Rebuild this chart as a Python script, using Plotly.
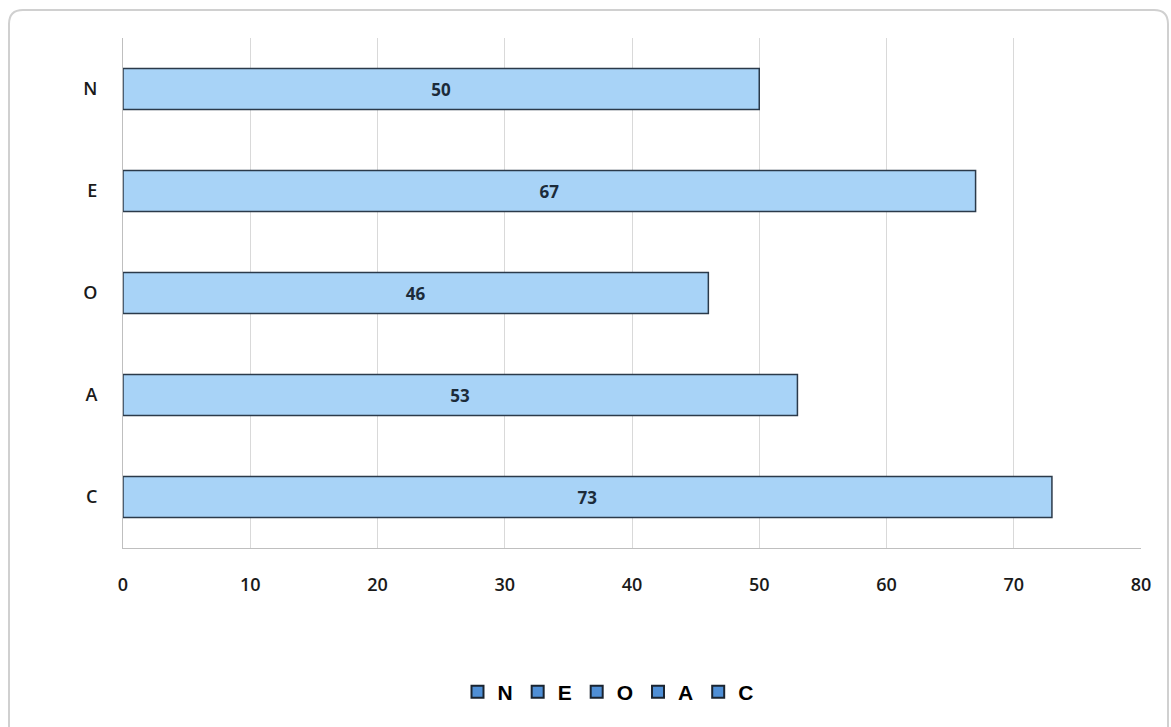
import plotly.graph_objects as go

categories = ["N", "E", "O", "A", "C"]
values = [50, 67, 46, 53, 73]
x_ticks = [0, 10, 20, 30, 40, 50, 60, 70, 80]

W, H = 1171, 727
ML, MR, MT, MB = 123, 30, 38, 179
PW, PH = W - ML - MR, H - MT - MB

def px(x):
    return (x - ML) / PW

def py(y):
    return (H - MB - y) / PH

fig = go.Figure()
fig.add_trace(go.Bar(
    y=categories, x=values, orientation="h",
    marker=dict(color="#A8D3F7", line=dict(color="#2B3A4A", width=1.5)),
    text=[str(v) for v in values], textposition="inside", insidetextanchor="middle",
    textfont=dict(family="Open Sans", size=17, color="#1C2B3A", weight="bold"),
    showlegend=False, width=0.4,
))
for c in categories:
    fig.add_trace(go.Bar(
        y=[None], x=[None], orientation="h", name=c,
        marker=dict(color="#4F8FD6", line=dict(color="#1A2430", width=2)),
        showlegend=True,
    ))

# rounded chart border
x0, x1, y0, y1, r = 9, 1168, 10, 740, 14
path = (f"M {px(x0+r)},{py(y0)} L {px(x1-r)},{py(y0)} Q {px(x1)},{py(y0)} {px(x1)},{py(y0+r)} "
        f"L {px(x1)},{py(y1-r)} Q {px(x1)},{py(y1)} {px(x1-r)},{py(y1)} "
        f"L {px(x0+r)},{py(y1)} Q {px(x0)},{py(y1)} {px(x0)},{py(y1-r)} "
        f"L {px(x0)},{py(y0+r)} Q {px(x0)},{py(y0)} {px(x0+r)},{py(y0)} Z")

fig.update_layout(
    width=W, height=H,
    margin=dict(l=ML, r=MR, t=MT, b=MB),
    paper_bgcolor="white", plot_bgcolor="white",
    barmode="overlay",
    shapes=[dict(type="path", xref="paper", yref="paper", path=path,
                 line=dict(color="#D0D0D0", width=2), layer="below")],
    xaxis=dict(range=[0, 80], tickvals=x_ticks, showgrid=True, gridcolor="#D9D9D9", gridwidth=1,
               showline=True, linecolor="#BFBFBF", zeroline=False, ticks="",
               ticklabelstandoff=20,
               tickfont=dict(family="Open Sans", size=18, color="#1A1A1A", weight=600)),
    yaxis=dict(autorange="reversed", showline=True, linecolor="#BFBFBF", showgrid=False,
               ticks="", ticklabelstandoff=21,
               tickfont=dict(family="Open Sans", size=18, color="#1A1A1A", weight=600)),
    legend=dict(orientation="h", x=px(608), y=py(692), xanchor="center", yanchor="middle",
                font=dict(family="Liberation Sans", size=21, color="#000000", weight="bold"),
                itemwidth=30, tracegroupgap=0, traceorder="normal", bgcolor="rgba(0,0,0,0)"),
)

fig.write_html("out.html")
